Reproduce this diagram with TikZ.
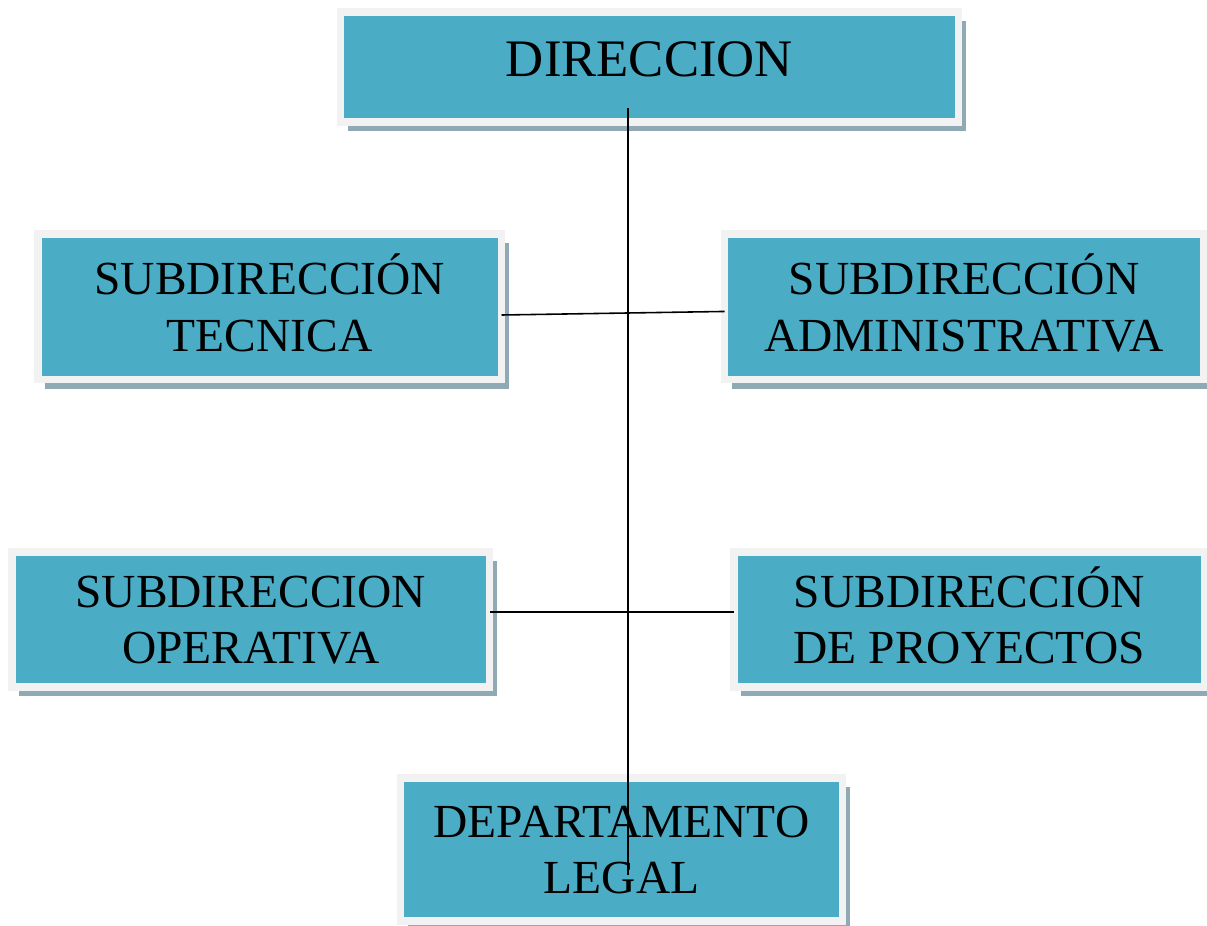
\documentclass[tikz,border=0pt]{standalone}
\usepackage{fontspec}
\setmainfont{Liberation Serif}
\usetikzlibrary{shadows}
\definecolor{aqua}{RGB}{75,172,198}
\definecolor{borde}{RGB}{242,242,242}
\definecolor{sombra}{RGB}{143,170,180}

\begin{document}
\begin{tikzpicture}[
    caja/.style={rectangle, fill=aqua, draw=borde, line width=0.15cm,
      outer sep=0pt, inner sep=0pt, align=center,
      font=\fontsize{27}{32}\selectfont, text height=1.77cm, text depth=0cm,
      drop shadow={shadow xshift=0.14cm, shadow yshift=-0.18cm, fill=sombra, opacity=1}},
    linea/.style={line width=0.9pt}
  ]
    \useasboundingbox (0,0) rectangle (24.14,-18.5);
    % cajas
    \node[caja, minimum width=12.36cm, minimum height=2.2cm,
      font=\fontsize{30}{36}\selectfont, text height=0.72cm, text depth=0.34cm]
      (dir) at (12.99,-1.34) {DIRECCION};
    \node[caja, minimum width=9.27cm, minimum height=2.91cm] (tec) at (5.395,-6.135)
      {SUBDIRECCIÓN\\TECNICA};
    \node[caja, minimum width=9.58cm, minimum height=2.91cm] (adm) at (19.28,-6.135)
      {SUBDIRECCIÓN\\ADMINISTRATIVA};
    \node[caja, minimum width=9.55cm, minimum height=2.7cm] (ope) at (5.015,-12.39)
      {SUBDIRECCION\\OPERATIVA};
    \node[caja, minimum width=9.41cm, minimum height=2.7cm] (pro) at (19.385,-12.39)
      {SUBDIRECCIÓN\\DE PROYECTOS};
    \node[caja, minimum width=8.84cm, minimum height=2.86cm] (leg) at (12.43,-16.99)
      {DEPARTAMENTO\\LEGAL};
    % lineas
    \coordinate (arriba) at (12.555,-2.16);
    \coordinate (abajo) at (12.555,-17.5);
    \draw[linea] (arriba) -- (abajo);
    \draw[linea] ([yshift=-0.165cm]tec.east) -- ([yshift=-0.094cm]adm.west);
    \draw[linea] ([yshift=0.15cm]ope.east) -- ([yshift=0.15cm]pro.west);
\end{tikzpicture}
\end{document}
